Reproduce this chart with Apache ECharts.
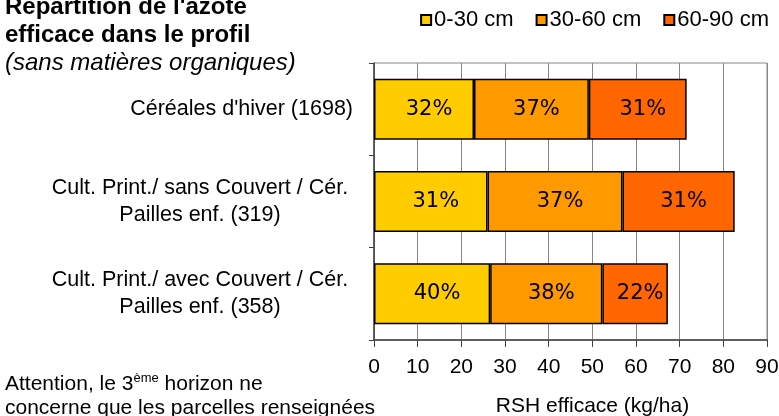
<!DOCTYPE html>
<html>
<head>
<meta charset="utf-8">
<script src="https://cdn.jsdelivr.net/npm/echarts@6/dist/echarts.min.js"></script>
<style>
  html, body { margin: 0; padding: 0; background: #fff; }
  #chart { width: 779px; height: 416px; }
</style>
</head>
<body>
<div id="chart"></div>
<script>
const categories = [
  "Céréales d'hiver (1698)",
  'Cult. Print./ sans Couvert / Cér.\nPailles enf. (319)',
  'Cult. Print./ avec Couvert / Cér.\nPailles enf. (358)',
]

const layerNames = ['0-30 cm', '30-60 cm', '60-90 cm']
const layerColors = ['#FFCC00', '#FF9900', '#FF6600']

// kg/ha per horizon
const values0to30 = [22.9, 26.0, 26.6]
const values30to60 = [26.3, 30.9, 25.7]
const values60to90 = [22.4, 25.7, 15.0]

const pct0to30 = ['32%', '31%', '40%']
const pct30to60 = ['37%', '37%', '38%']
const pct60to90 = ['31%', '31%', '22%']

const xMin = 0
const xMax = 90
const xStep = 10

const FONT = 'Liberation Sans, Arial, sans-serif'

const layers = [
  { values: values0to30, pct: pct0to30 },
  { values: values30to60, pct: pct30to60 },
  { values: values60to90, pct: pct60to90 },
]

const chart = echarts.init(document.getElementById('chart'), null, { renderer: 'canvas' })

chart.setOption({
  animation: false,
  textStyle: { fontFamily: FONT },
  title: {
    left: 5,
    top: -7,
    padding: 0,
    text: "{b|Répartition de l'azote}\n{b|efficace dans le profil}\n{i|(sans matières organiques)}",
    textStyle: {
      fontWeight: 'normal',
      rich: {
        b: { fontFamily: FONT, fontSize: 24, fontWeight: 'bold', color: '#000', lineHeight: 28 },
        i: { fontFamily: FONT, fontSize: 24, fontWeight: 'normal', fontStyle: 'italic', color: '#000', lineHeight: 28 },
      },
    },
  },
  legend: {
    right: 10,
    top: 9,
    icon: 'rect',
    itemWidth: 10,
    itemHeight: 10,
    itemGap: 22,
    padding: 0,
    data: layerNames,
    textStyle: { fontFamily: FONT, fontSize: 22, color: '#000', padding: [0, 0, 0, -2] },
  },
  grid: {
    left: 374,
    right: 12,
    top: 63,
    height: 277,
    containLabel: false,
    outerBoundsMode: 'none',
    show: true,
    borderColor: '#868686',
    borderWidth: 1,
  },
  xAxis: {
    type: 'value',
    min: xMin,
    max: xMax,
    interval: xStep,
    name: 'RSH efficace (kg/ha)',
    nameLocation: 'middle',
    nameGap: 56,
    nameTextStyle: { fontFamily: FONT, fontSize: 21, color: '#000', padding: [0, 0, 0, 44] },
    axisLine: { show: true, lineStyle: { color: '#404040', width: 1.5 } },
    axisTick: { show: true, length: 7, lineStyle: { color: '#404040' } },
    axisLabel: { fontFamily: FONT, fontSize: 21, color: '#000', margin: 17 },
    splitLine: { show: true, lineStyle: { color: '#868686', width: 1 } },
  },
  yAxis: {
    type: 'category',
    inverse: true,
    data: categories,
    axisLine: { show: true, lineStyle: { color: '#404040', width: 1.5 } },
    axisTick: { show: true, length: 5, lineStyle: { color: '#404040' } },
    axisLabel: {
      margin: 21,
      color: '#000',
      fontFamily: FONT,
      fontSize: 21.5,
      lineHeight: 27,
      formatter: (value) => {
        if (value.indexOf('\n') < 0) {
          return value
        }
        return value.split('\n').map((line) => `{c|${line}}`).join('\n')
      },
      rich: {
        c: { width: 306, align: 'center', fontFamily: FONT, fontSize: 21.5, lineHeight: 27, color: '#000' },
      },
    },
  },
  series: layers.map((layer, i) => ({
    name: layerNames[i],
    type: 'bar',
    stack: 'profil',
    barWidth: 61,
    data: layer.values,
    itemStyle: { color: layerColors[i], borderColor: '#000', borderWidth: 1.5 },
    label: {
      show: true,
      position: 'inside',
      offset: [5, 0],
      color: '#000',
      fontFamily: 'DejaVu Sans, Verdana, sans-serif',
      fontSize: 21,
      formatter: ({ dataIndex }) => layer.pct[dataIndex],
    },
  })),
  graphic: [
    {
      type: 'text',
      left: 5,
      top: 372,
      style: {
        text: '{n|Attention, le 3}{s|ème}{n| horizon ne}\n{n|concerne que les parcelles renseignées}',
        rich: {
          n: { fontFamily: FONT, fontSize: 21, lineHeight: 24, fill: '#000' },
          s: { fontFamily: FONT, fontSize: 13, lineHeight: 24, fill: '#000', verticalAlign: 'top', padding: [0, 0, 8, 0] },
        },
      },
    },
  ],
})
</script>
</body>
</html>
